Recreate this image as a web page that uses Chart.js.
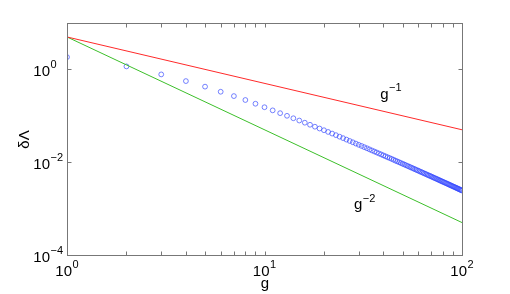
<!DOCTYPE html>
<html>
<head>
<meta charset="utf-8">
<script src="https://cdn.jsdelivr.net/npm/chart.js@4"></script>
<style>
html,body{margin:0;padding:0;background:#fff;}
#wrap{width:510px;height:294px;position:relative;}
</style>
</head>
<body>
<div id="wrap"><canvas id="c" width="510" height="294"></canvas></div>
<script>
const gValues = [1,2,3,4,5,6,7,8,9,10,11,12,13,14,15,16,17,18,19,20,
  21,22,23,24,25,26,27,28,29,30,31,32,33,34,35,36,37,38,39,40,
  41,42,43,44,45,46,47,48,49,50,51,52,53,54,55,56,57,58,59,60,
  61,62,63,64,65,66,67,68,69,70,71,72,73,74,75,76,77,78,79,80,
  81,82,83,84,85,86,87,88,89,90,91,92,93,94,95,96,97,98,99,100];
const deltaLambda = [1.84,1.16,0.78,0.56,0.425,0.33,0.266,0.219,0.182,0.153,
  0.131,0.114,0.100,0.0885,0.0791,0.0710,0.0641,0.0582,0.0532,0.0489,
  0.0449,0.0414,0.0383,0.0355,0.0330,0.0307,0.0287,0.0269,0.0252,0.0237,
  0.0224,0.0211,0.0200,0.0189,0.0179,0.0170,0.0162,0.0154,0.0147,0.0140,
  0.0134,0.0128,0.0123,0.0118,0.0113,0.0108,0.0104,0.0100,0.00962,0.00926,
  0.00893,0.00861,0.00831,0.00802,0.00775,0.00749,0.00724,0.00701,0.00678,0.00657,
  0.00637,0.00617,0.00599,0.00581,0.00564,0.00548,0.00532,0.00518,0.00504,0.00490,
  0.00477,0.00464,0.00452,0.00440,0.00429,0.00418,0.00408,0.00398,0.00388,0.00379,
  0.00370,0.00361,0.00353,0.00345,0.00337,0.00329,0.00322,0.00315,0.00308,0.00301,
  0.00295,0.00289,0.00283,0.00277,0.00271,0.00266,0.00260,0.00255,0.00250,0.00245];
// reference power laws g^-1 and g^-2 (end points)
const lineX = [1, 100];
const invG = [5, 0.05];
const invG2 = [5, 0.0005];
// axis ticks
const xMajorTicks = [1, 10, 100];
const xMinorTicks = [2,3,4,5,6,7,8,9,20,30,40,50,60,70,80,90];
const xTickLabels = [['10','0'],['10','1'],['10','2']];
const yMajorTicks = [1e-4, 1e-2, 1];
const yTickLabels = [['10','\u22124'],['10','\u22122'],['10','0']];
const xTitle = 'g';
const yTitle = '\u03b4\u039b';
const annotations = [{base:'g', exp:'\u22121', x:38.5, y:0.232}, {base:'g', exp:'\u22122', x:28.4, y:0.00098}];

const FONT = '"Liberation Sans", Arial, Helvetica, sans-serif';
const AXIS_COLOR = '#777';

function drawPow(ctx, base, exp, x, y, size){
  ctx.font = size + 'px ' + FONT;
  ctx.textAlign = 'left';
  ctx.textBaseline = 'alphabetic';
  ctx.fillText(base, x, y);
  const w = ctx.measureText(base).width;
  ctx.font = Math.round(size*0.7) + 'px ' + FONT;
  ctx.fillText(exp, x + w + 0.5, y - size*0.5);
}
function powWidth(ctx, base, exp, size){
  ctx.font = size + 'px ' + FONT;
  const w1 = ctx.measureText(base).width;
  ctx.font = Math.round(size*0.7) + 'px ' + FONT;
  return w1 + 0.5 + ctx.measureText(exp).width;
}

const axesPlugin = {
  id: 'matlabAxes',
  afterDraw(chart){
    const ctx = chart.ctx;
    const xs = chart.scales.x, ys = chart.scales.y;
    const a = chart.chartArea;
    const L = Math.round(a.left)+0.5, R = Math.round(a.right)+0.5;
    const T = Math.round(a.top)+0.5, B = Math.round(a.bottom)+0.5;
    ctx.save();
    ctx.strokeStyle = AXIS_COLOR;
    ctx.lineWidth = 1;
    ctx.strokeRect(L, T, R-L, B-T);
    const tl = 4;
    ctx.beginPath();
    xMajorTicks.concat(xMinorTicks).forEach(v=>{
      const px = Math.round(xs.getPixelForValue(v))+0.5;
      ctx.moveTo(px, B); ctx.lineTo(px, B-tl);
      ctx.moveTo(px, T); ctx.lineTo(px, T+tl);
    });
    yMajorTicks.forEach(v=>{
      const py = Math.round(ys.getPixelForValue(v))+0.5;
      ctx.moveTo(L, py); ctx.lineTo(L+tl, py);
      ctx.moveTo(R, py); ctx.lineTo(R-tl, py);
    });
    ctx.stroke();
    ctx.fillStyle = '#000';
    const size = 15;
    xMajorTicks.forEach((v,i)=>{
      const px = xs.getPixelForValue(v);
      const w = powWidth(ctx, xTickLabels[i][0], xTickLabels[i][1], size);
      drawPow(ctx, xTickLabels[i][0], xTickLabels[i][1], px - w/2, B + 20, size);
    });
    yMajorTicks.forEach((v,i)=>{
      const py = ys.getPixelForValue(v);
      ctx.font = size + 'px ' + FONT;
      const w = ctx.measureText(yTickLabels[i][0]).width;
      drawPow(ctx, yTickLabels[i][0], yTickLabels[i][1], 50 - w, py + 6.5, size);
    });
    // axis titles
    ctx.font = size + 'px ' + FONT;
    ctx.textAlign = 'center';
    ctx.textBaseline = 'alphabetic';
    ctx.fillText(xTitle, (L+R)/2, 288);
    ctx.save();
    ctx.translate(29, (T+B)/2);
    ctx.rotate(-Math.PI/2);
    ctx.fillText(yTitle, 0, 0);
    ctx.restore();
    // annotations
    annotations.forEach(an=>{
      const px = xs.getPixelForValue(an.x), py = ys.getPixelForValue(an.y);
      drawPow(ctx, an.base, an.exp, px, py, size);
    });
    ctx.restore();
  }
};

new Chart(document.getElementById('c'), {
  type: 'scatter',
  data: {
    datasets: [
      {
        label: 'g^-1',
        data: lineX.map((x,i)=>({x, y: invG[i]})),
        showLine: true, borderColor: '#ff2a2a', borderWidth: 1,
        pointRadius: 0, fill: false
      },
      {
        label: 'g^-2',
        data: lineX.map((x,i)=>({x, y: invG2[i]})),
        showLine: true, borderColor: '#3cbf2a', borderWidth: 1,
        pointRadius: 0, fill: false
      },
      {
        label: 'deltaLambda',
        data: gValues.map((g,i)=>({x: g, y: deltaLambda[i]})),
        showLine: false, pointStyle: 'circle', pointRadius: 2.4,
        pointBorderWidth: 0.9, pointBorderColor: 'rgba(50,70,255,0.75)',
        pointBackgroundColor: 'rgba(0,0,0,0)'
      }
    ]
  },
  options: {
    responsive: false,
    animation: false,
    events: [],
    layout: { padding: { top: 23, right: 48, left: 0, bottom: 0 } },
    plugins: { legend: { display: false }, tooltip: { enabled: false } },
    scales: {
      x: {
        type: 'logarithmic', min: 1, max: 100,
        grid: { display: false }, border: { display: false },
        ticks: { display: false },
        afterFit(s){ s.height = 39; }
      },
      y: {
        type: 'logarithmic', min: 1e-4, max: 10,
        grid: { display: false }, border: { display: false },
        ticks: { display: false },
        afterFit(s){ s.width = 67; }
      }
    }
  },
  plugins: [axesPlugin]
});
</script>
</body>
</html>
